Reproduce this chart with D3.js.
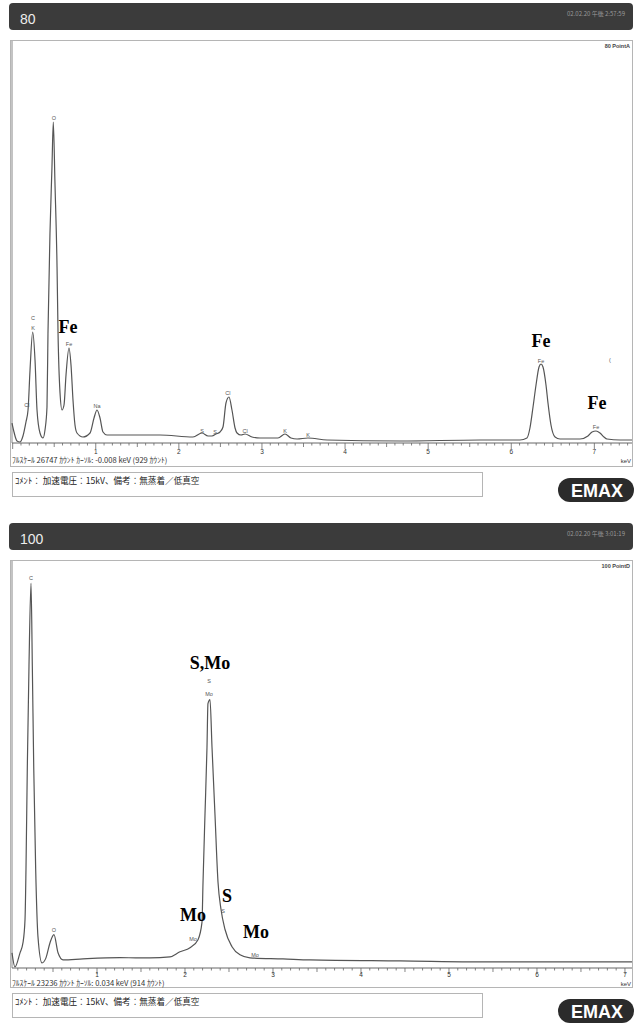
<!DOCTYPE html>
<html>
<head>
<meta charset="utf-8">
<script src="https://cdn.jsdelivr.net/npm/d3@7"></script>
<style>
  body { margin: 0; background: #fff; }
  svg text { font-family: "Liberation Sans", Arial, sans-serif; }
  .jp { font-family: "Noto Sans CJK JP", sans-serif !important; }
  .bold { font-family: "Liberation Serif", "Times New Roman", serif !important; font-weight: bold; }
</style>
</head>
<body>
<div id="canvas"></div>
<script>
// spectrum 80 PointA
var topKeV = [-0.008, 0.016, 0.052, 0.088, 0.124, 0.160, 0.185, 0.209, 0.241, 0.269, 0.293, 0.329, 0.365, 0.389,
  0.413, 0.425, 0.449, 0.473, 0.489, 0.509, 0.534, 0.546, 0.570, 0.594, 0.618, 0.642, 0.678, 0.702, 0.726,
  0.750, 0.774, 0.846, 0.931, 0.979, 1.015, 1.051, 1.087, 1.135, 1.412, 1.773, 2.170, 2.278, 2.351, 2.399,
  2.447, 2.495, 2.531, 2.567, 2.603, 2.639, 2.676, 2.700, 2.748, 2.796, 2.880, 2.977, 3.193, 3.277, 3.349,
  3.422, 3.554, 3.783, 4.661, 5.624, 6.105, 6.189, 6.225, 6.262, 6.298, 6.334, 6.358, 6.382, 6.418, 6.442,
  6.478, 6.527, 6.587, 6.827, 6.923, 6.972, 7.020, 7.068, 7.116, 7.152, 7.309, 7.453];
var topCounts = [1361, 749, 136, 68, 476, 1429, 2246, 4968, 7555, 5649, 2246, 681, 340, 885,
  2450, 7487, 14293, 18785, 21847, 17696, 11979, 7487, 3403, 2246, 2586, 4628, 6466, 5309, 2927,
  1225, 681, 408, 681, 1702, 2246, 1702, 749, 544, 544, 544, 408, 681, 476, 476,
  613, 749, 1089, 2722, 3131, 2246, 1021, 681, 544, 613, 408, 340, 340, 613, 340,
  272, 340, 204, 136, 204, 204, 340, 1021, 2450, 3947, 5173, 5377, 5173, 3947, 2722,
  1225, 408, 272, 272, 476, 749, 817, 681, 408, 272, 204, 204];

// spectrum 100 PointD
var botKeV = [0.034, 0.068, 0.125, 0.159, 0.182, 0.193, 0.208, 0.227, 0.250, 0.265, 0.281, 0.303, 0.329, 0.375,
  0.420, 0.466, 0.511, 0.557, 0.614, 0.841, 1.261, 1.602, 1.829, 1.943, 2.057, 2.148, 2.193, 2.205, 2.227,
  2.250, 2.261, 2.284, 2.307, 2.341, 2.375, 2.409, 2.455, 2.534, 2.625, 2.739, 3.114, 3.420, 4.443, 5.580, 7.080];
var botCounts = [887, 59, 887, 1478, 2838, 5794, 11706, 17618, 22466, 17618, 11706, 5794, 1833, 296,
  591, 1478, 1951, 887, 473, 532, 600, 591, 650, 946, 1182, 1655, 2660, 5025, 8927,
  12888, 15430, 15667, 12888, 8927, 5025, 3429, 2247, 1242, 769, 591, 532, 473, 414, 355, 355];

// peak markers (small) and added labels (bold)
var topMarkText = ["O", "C", "K", "Cl", "Fe", "Na", "S", "S", "Cl", "Cl", "K", "K", "Fe", "Fe", "("];
var topMarkKeV = [0.497, 0.245, 0.245, 0.172, 0.678, 1.015, 2.278, 2.435, 2.591, 2.796, 3.277, 3.554, 6.358, 7.020, 7.188];
var topMarkCounts = [21983, 8371, 7691, 2450, 6602, 2382, 681, 613, 3267, 681, 681, 408, 5445, 953, 5513];
var topBoldText = ["Fe", "Fe", "Fe"];
var topBoldKeV = [0.666, 6.358, 7.032];
var topBoldCounts = [7487, 6534, 2314];

var botMarkText = ["C", "O", "S", "Mo", "Mo", "S", "Mo"];
var botMarkKeV = [0.250, 0.511, 2.273, 2.273, 2.091, 2.432, 2.795];
var botMarkCounts = [22643, 2128, 16613, 15903, 1596, 3192, 650];
var botBoldText = ["S,Mo", "S", "Mo", "Mo"];
var botBoldKeV = [2.284, 2.477, 2.091, 2.807];
var botBoldCounts = [17440, 3843, 2720, 1774];

var tickLabels = [1, 2, 3, 4, 5, 6, 7];

var W = 640, H = 1025;
var paper = d3.select("#canvas").append("svg")
  .attr("width", W).attr("height", H);

function drawPanel(p) {
  var g = paper.append("g").attr("transform", "translate(0," + p.top + ")");

  // header bar
  g.append("rect").attr("x", 9).attr("y", 3).attr("width", 624).attr("height", 27)
    .attr("rx", 4).style("fill", "#3b3b3b");
  g.append("text").attr("x", 20).attr("y", 24).text(p.title)
    .style("fill", "#ededed").style("font-size", "14px");
  g.append("text").attr("class", "jp").attr("x", 625).attr("y", 16).attr("text-anchor", "end")
    .text(p.date).style("fill", "#9a9a9a").style("font-size", "6px");

  // frame
  g.append("rect").attr("x", 10.5).attr("y", 40.5).attr("width", 622).attr("height", p.boxH)
    .style("fill", "none").style("stroke", "#b5b5b5");
  g.append("text").attr("x", 630).attr("y", 48).attr("text-anchor", "end")
    .text(p.point).style("font-size", "5.5px").style("font-weight", "bold").style("fill", "#444");

  var x = d3.scaleLinear().domain(p.xDomain).range([12, 632]);
  var y = d3.scaleLinear().domain([0, p.full]).range([p.axisY, 50]);

  g.append("line").attr("x1", 12).attr("x2", 12).attr("y1", 41).attr("y2", p.axisY)
    .style("stroke", "#888");

  // keV axis with 0.1 keV ticks
  var minor = d3.range(Math.ceil(p.xDomain[0] * 10), Math.floor(p.xDomain[1] * 10) + 1).map(function (d) { return d / 10; });
  var ax = g.append("g").attr("transform", "translate(0," + p.axisY + ")");
  ax.append("line").attr("x1", 12).attr("x2", 632).style("stroke", "#666");
  ax.selectAll(".tk").data(minor).enter().append("line")
    .attr("x1", function (d) { return x(d); }).attr("x2", function (d) { return x(d); })
    .attr("y1", 0)
    .attr("y2", function (d) { var r = Math.round(d * 10); return r % 10 === 0 ? 6 : (r % 5 === 0 ? 4 : 2.5); })
    .style("stroke", "#666").style("stroke-width", 0.8);
  ax.selectAll(".lb").data(tickLabels).enter().append("text")
    .attr("x", function (d) { return x(d); }).attr("y", p.tickDy).attr("text-anchor", "middle")
    .text(function (d) { return d; }).style("font-size", "6.5px").style("fill", "#333");
  g.append("text").attr("x", 631).attr("y", p.axisY + p.footDy).attr("text-anchor", "end")
    .text("keV").style("font-size", "6px").style("fill", "#333");
  g.append("text").attr("class", "jp").attr("x", 12).attr("y", p.axisY + p.footDy)
    .text(p.foot).style("font-size", "7.6px").style("fill", "#333");

  // spectrum
  var pts = p.keV.map(function (d, i) { return [d, p.counts[i]]; });
  var line = d3.line().x(function (d) { return x(d[0]); }).y(function (d) { return y(d[1]); })
    .curve(d3.curveMonotoneX);
  g.append("path").datum(pts).attr("d", line)
    .style("fill", "none").style("stroke", "#555").style("stroke-width", 1.2);

  // peak markers
  g.selectAll(".mk").data(p.markText).enter().append("text")
    .attr("x", function (d, i) { return x(p.markKeV[i]); })
    .attr("y", function (d, i) { return y(p.markCounts[i]); })
    .attr("text-anchor", "middle").text(function (d) { return d; })
    .style("font-size", "5.5px").style("fill", "#555");

  g.selectAll(".bl").data(p.boldText).enter().append("text")
    .attr("class", "bold")
    .attr("x", function (d, i) { return x(p.boldKeV[i]); })
    .attr("y", function (d, i) { return y(p.boldCounts[i]); })
    .attr("text-anchor", "middle").text(function (d) { return d; })
    .style("font-size", "18px").style("fill", "#000");

  // comment box
  var cy = p.axisY + p.commentDy;
  g.append("rect").attr("x", 12.5).attr("y", cy + 0.5).attr("width", 470).attr("height", 24)
    .style("fill", "none").style("stroke", "#b5b5b5");
  g.append("text").attr("class", "jp").attr("x", 15).attr("y", cy + 12)
    .text("ｺﾒﾝﾄ： 加速電圧：15kV、備考：無蒸着／低真空").style("font-size", "8.6px").style("fill", "#222");

  // EMAX badge
  g.append("rect").attr("x", 558).attr("y", cy + 6).attr("width", 76).attr("height", 24)
    .attr("rx", 12).style("fill", "#2b2b2b");
  g.append("text").attr("x", 597).attr("y", cy + 25).attr("text-anchor", "middle")
    .text("EMAX").style("fill", "#fff").style("font-size", "18px").style("font-weight", "bold");
}

drawPanel({
  top: 0, title: "80", date: "02.02.20 午後 2:57:59", point: "80 PointA",
  boxH: 426, axisY: 443, full: 26747, xDomain: [-0.008, 7.453],
  tickDy: 10.5, footDy: 20, commentDy: 29,
  foot: "ﾌﾙｽｹｰﾙ  26747 ｶｳﾝﾄ  ｶｰｿﾙ: -0.008 keV (929 ｶｳﾝﾄ)",
  keV: topKeV, counts: topCounts,
  markText: topMarkText, markKeV: topMarkKeV, markCounts: topMarkCounts,
  boldText: topBoldText, boldKeV: topBoldKeV, boldCounts: topBoldCounts
});

drawPanel({
  top: 520, title: "100", date: "02.02.20 午後 3:01:19", point: "100 PointD",
  boxH: 427, axisY: 448, full: 23236, xDomain: [0.034, 7.080],
  tickDy: 9, footDy: 17.5, commentDy: 25,
  foot: "ﾌﾙｽｹｰﾙ  23236 ｶｳﾝﾄ  ｶｰｿﾙ: 0.034 keV (914 ｶｳﾝﾄ)",
  keV: botKeV, counts: botCounts,
  markText: botMarkText, markKeV: botMarkKeV, markCounts: botMarkCounts,
  boldText: botBoldText, boldKeV: botBoldKeV, boldCounts: botBoldCounts
});
</script>
</body>
</html>
